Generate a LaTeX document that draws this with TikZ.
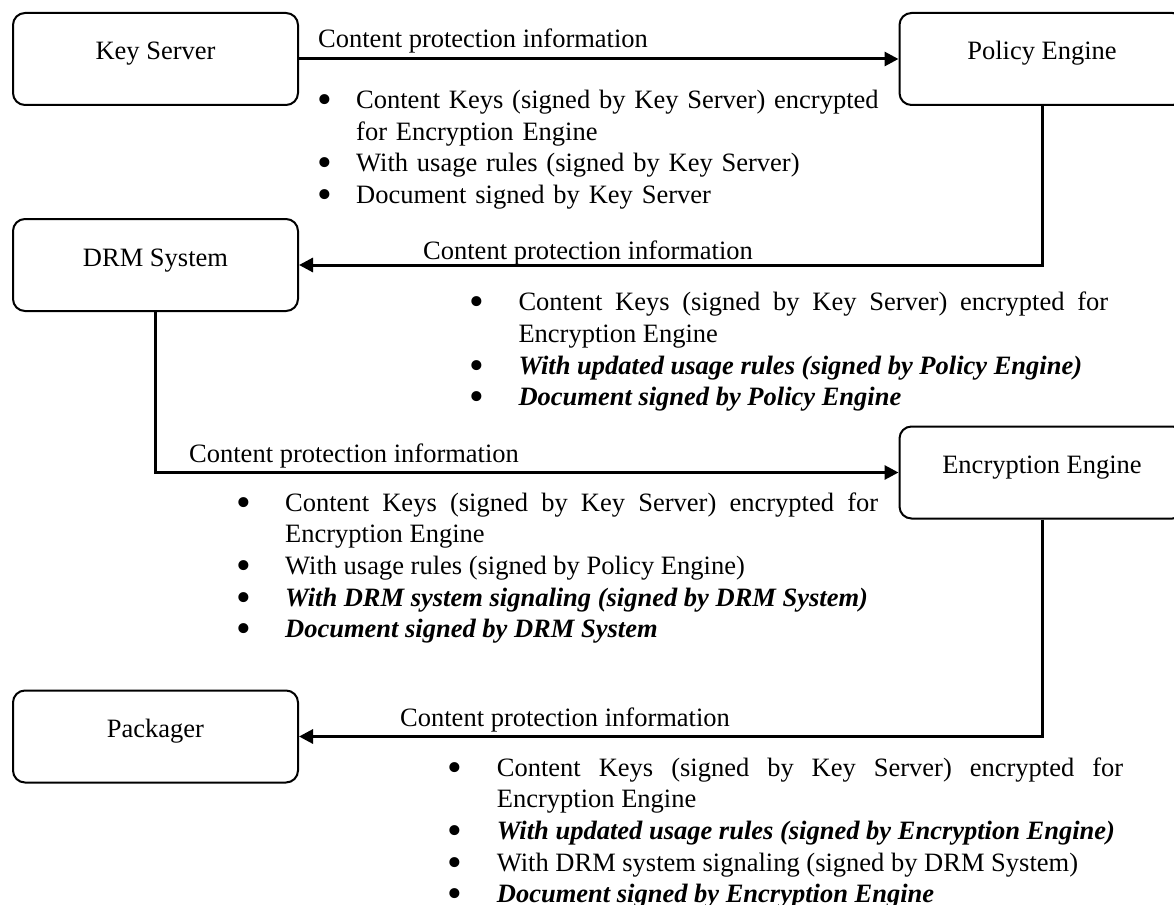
\documentclass[tikz,border=0pt]{standalone}
\usepackage{fontspec}
\setmainfont{Liberation Serif}
\usetikzlibrary{arrows.meta}
\hyphenpenalty=10000
\exhyphenpenalty=10000
\tolerance=10000
\hbadness=10000
\newlength\bind
\newcommand\bitem[1]{\par\hangindent=\bind\hangafter=1\noindent\makebox[\bind][l]{\smash{\raisebox{-5pt}{\fontsize{42}{0}\selectfont •}}}\strut#1}
\begin{document}
\begin{tikzpicture}[
                x=1pt, y=-1pt,
                every node/.style={font=\fontsize{26.5}{31.6}\selectfont},
                box/.style={draw, line width=2pt, rounded corners=12pt, minimum width=285pt, minimum height=92pt, text height=19pt, text depth=17pt},
                flow/.style={line width=3pt, -{Triangle[length=14pt, width=14pt]}},
                caption/.style={anchor=base west, inner sep=0pt},
                blist/.style 2 args={anchor=north west, inner sep=0pt, text width=#1, execute at begin node={\setlength{\bind}{#2}}},
            ]
            \useasboundingbox (0,0) rectangle (1174,904);
            \clip (0,0) rectangle (1174,904);
            \node[box] (keyserver) at (155.5,59) {Key Server};
            \node[box] (policy) at (1042,59) {Policy Engine};
            \node[box] (drm) at (155.5,265) {DRM System};
            \node[box] (encrypt) at (1042,472.5) {Encryption Engine};
            \node[box] (packager) at (155.5,736.5) {Packager};

            \draw[flow] (keyserver.east) -- (policy.west);
            \draw[flow] (policy.south) |- (drm.east);
            \draw[flow] (drm.south) |- (encrypt.west);
            \draw[flow] (encrypt.south) |- (packager.east);

            \node[caption] (cap1) at (318,48) {Content protection information};
            \node[caption] (cap2) at (423,259) {Content protection information};
            \node[caption] (cap3) at (189,462) {Content protection information};
            \node[caption] (cap4) at (400,726) {Content protection information};

            \node[blist={567.3pt}{38.3pt}, align=left] (list1) at (317.7,77) {
                \bitem{Content Keys (signed by Key Server) encrypted for Encryption Engine}
                \bitem{With usage rules (signed by Key Server)}
                \bitem{Document signed by Key Server}};
            \node[blist={638.6pt}{48.9pt}, align=justify] (list2) at (469.4,279) {
                \bitem{Content Keys (signed by Key Server) encrypted for Encryption Engine}
                \bitem{\textbf{\textit{With updated usage rules (signed by Policy Engine)}}}
                \bitem{\textbf{\textit{Document signed by Policy Engine}}}};
            \node[blist={642pt}{49pt}, align=justify] (list3) at (236,479.5) {
                \bitem{Content Keys (signed by Key Server) encrypted for Encryption Engine}
                \bitem{With usage rules (signed by Policy Engine)}
                \bitem{\textbf{\textit{With DRM system signaling (signed by DRM System)}}}
                \bitem{\textbf{\textit{Document signed by DRM System}}}};
            \node[blist={675.3pt}{49pt}, align=justify] (list4) at (447.7,744.5) {
                \bitem{Content Keys (signed by Key Server) encrypted for Encryption Engine}
                \bitem{\textbf{\textit{With updated usage rules (signed by Encryption Engine)}}}
                \bitem{With DRM system signaling (signed by DRM System)}
                \bitem{\textbf{\textit{Document signed by Encryption Engine}}}};
            \end{tikzpicture}
\end{document}
